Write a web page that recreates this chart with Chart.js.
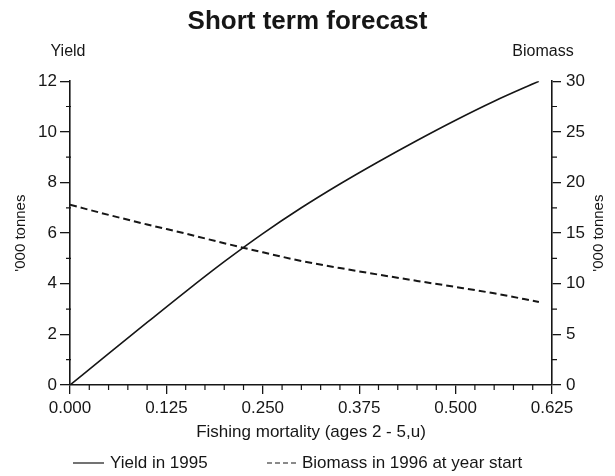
<!DOCTYPE html>
<html>
<head>
<meta charset="utf-8">
<script src="https://cdn.jsdelivr.net/npm/chart.js@4.4.0/dist/chart.umd.min.js"></script>
<style>
  html, body { margin: 0; padding: 0; background: #fff; }
</style>
</head>
<body>
<canvas id="chart" width="615" height="476"></canvas>
<script>
// fishing mortality (x) and the two forecast series
const fishingMortality = [0, 0.05, 0.1, 0.15, 0.2, 0.25, 0.3, 0.35, 0.4, 0.45, 0.5, 0.55, 0.608];
const yield1995 = [0, 1.24, 2.47, 3.69, 4.87, 5.98, 7.0, 7.94, 8.82, 9.66, 10.46, 11.21, 12.0];
const biomass1996 = [17.8, 16.8, 15.85, 14.95, 14.0, 13.1, 12.25, 11.55, 10.9, 10.28, 9.68, 9.05, 8.2];

const INK = '#161616';
const FONT = "'Liberation Sans', Arial, sans-serif";

function points(ys) {
  return fishingMortality.map((f, i) => ({x: f, y: ys[i]}));
}

// small unlabelled ticks between the labelled ones
const minorTicks = {
  id: 'minorTicks',
  afterDraw(chart) {
    const {ctx, chartArea, scales} = chart;
    ctx.save();
    ctx.strokeStyle = INK;
    ctx.lineWidth = 1.2;
    ctx.beginPath();
    for (let i = 1; i < 25; i++) {
      if (i % 5 === 0) continue;
      const px = scales.x.getPixelForValue(i * 0.025);
      ctx.moveTo(px, chartArea.bottom);
      ctx.lineTo(px, chartArea.bottom + 5);
    }
    for (let i = 1; i < 12; i += 2) {
      const py = scales.y.getPixelForValue(i);
      ctx.moveTo(chartArea.left - 4, py);
      ctx.lineTo(chartArea.left + 1, py);
      const py2 = scales.y2.getPixelForValue(i * 2.5);
      ctx.moveTo(chartArea.right, py2);
      ctx.lineTo(chartArea.right + 5, py2);
    }
    ctx.stroke();
    ctx.restore();
  }
};

// axis captions above the axes, right hand title and the legend
const extraText = {
  id: 'extraText',
  afterDraw(chart) {
    const {ctx, chartArea} = chart;
    ctx.save();
    ctx.fillStyle = INK;
    ctx.textBaseline = 'middle';
    ctx.textAlign = 'center';
    ctx.font = '16px ' + FONT;
    ctx.fillText('Yield', chartArea.left - 2, 52);
    ctx.fillText('Biomass', chartArea.right - 9, 52);

    ctx.save();
    ctx.font = '15px ' + FONT;
    ctx.translate(599, (chartArea.top + chartArea.bottom) / 2);
    ctx.rotate(-Math.PI / 2);
    ctx.fillText("'000 tonnes", 0, 0);
    ctx.restore();

    const legendY = 463;
    const slots = [{x: 73, w: 31}, {x: 267, w: 29}];
    ctx.textAlign = 'left';
    ctx.font = '17px ' + FONT;
    ctx.strokeStyle = INK;
    ctx.lineWidth = 1.2;
    chart.data.datasets.forEach((ds, i) => {
      const s = slots[i];
      ctx.setLineDash(ds.borderDash ? [5, 3] : []);
      ctx.beginPath();
      ctx.moveTo(s.x, legendY);
      ctx.lineTo(s.x + s.w, legendY);
      ctx.stroke();
      ctx.setLineDash([]);
      ctx.fillText(ds.label, s.x + s.w + 6, legendY);
    });
    ctx.restore();
  }
};

const tickFont = {family: FONT, size: 17};

new Chart(document.getElementById('chart'), {
  type: 'line',
  data: {
    datasets: [{
      label: 'Yield in 1995',
      data: points(yield1995),
      yAxisID: 'y',
      borderColor: INK,
      borderWidth: 1.6,
      pointRadius: 0,
      cubicInterpolationMode: 'monotone',
      fill: false
    }, {
      label: 'Biomass in 1996 at year start',
      data: points(biomass1996),
      yAxisID: 'y2',
      borderColor: INK,
      borderWidth: 2,
      borderDash: [7, 4],
      pointRadius: 0,
      cubicInterpolationMode: 'monotone',
      fill: false
    }]
  },
  options: {
    responsive: false,
    animation: false,
    layout: {padding: {top: 0, right: 0, bottom: 33, left: 0}},
    plugins: {
      legend: {display: false},
      tooltip: {enabled: false},
      title: {
        display: true,
        text: 'Short term forecast',
        color: INK,
        font: {family: FONT, size: 26, weight: 'bold'},
        padding: {top: 6, bottom: 44}
      }
    },
    scales: {
      x: {
        type: 'linear',
        min: 0,
        max: 0.625,
        ticks: {
          stepSize: 0.125,
          callback: v => v.toFixed(3),
          maxRotation: 0,
          padding: 4,
          color: INK,
          font: tickFont
        },
        grid: {drawOnChartArea: false, tickLength: 9, color: INK, lineWidth: 1.3},
        border: {color: INK, width: 1.6},
        title: {
          display: true,
          text: 'Fishing mortality (ages 2 - 5,u)',
          color: INK,
          font: {family: FONT, size: 17},
          padding: {top: 0, bottom: 0}
        },
        afterFit(scale) { scale.height = 58; }
      },
      y: {
        position: 'left',
        min: 0,
        max: 12,
        ticks: {stepSize: 2, padding: 3, color: INK, font: tickFont},
        grid: {drawOnChartArea: false, tickLength: 10, color: INK, lineWidth: 1.3},
        border: {color: INK, width: 1.6},
        title: {
          display: true,
          text: "'000 tonnes",
          color: INK,
          font: {family: FONT, size: 15},
          padding: {top: 12, bottom: 0}
        },
        afterFit(scale) { scale.width = 70; }
      },
      y2: {
        position: 'right',
        min: 0,
        max: 30,
        ticks: {stepSize: 5, padding: 5, color: INK, font: tickFont},
        grid: {drawOnChartArea: false, tickLength: 9, color: INK, lineWidth: 1.3},
        border: {color: INK, width: 1.6},
        afterFit(scale) { scale.width = 63; }
      }
    }
  },
  plugins: [minorTicks, extraText]
});
</script>
</body>
</html>
